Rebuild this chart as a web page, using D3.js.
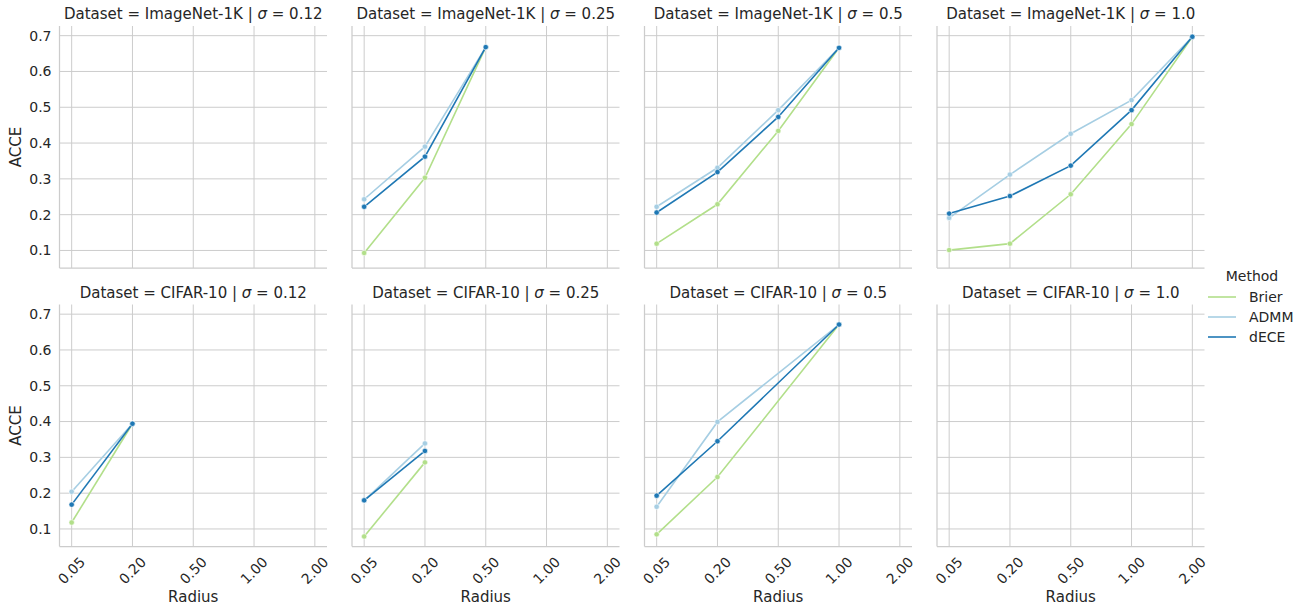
<!DOCTYPE html>
<html>
<head>
<meta charset="utf-8">
<script src="https://cdn.jsdelivr.net/npm/d3@7"></script>
<style>
  body { margin: 0; background: #fff; }
  text { font-family: "DejaVu Sans", sans-serif; fill: #262626; }
</style>
</head>
<body>
<div id="chart"></div>
<script>
// facet values
const datasets = ["ImageNet-1K", "CIFAR-10"];
const sigmas = ["0.12", "0.25", "0.5", "1.0"];
const radii = ["0.05", "0.20", "0.50", "1.00", "2.00"];
const methods = ["Brier", "ADMM", "dECE"];
const yTicks = [0.1, 0.2, 0.3, 0.4, 0.5, 0.6, 0.7];

// ACCE per radius (null = no run), one array per method and panel
const imagenet012Brier = [];
const imagenet012ADMM = [];
const imagenet012dECE = [];
const imagenet025Brier = [0.093, 0.303, 0.668];
const imagenet025ADMM = [0.243, 0.390, 0.668];
const imagenet025dECE = [0.222, 0.362, 0.668];
const imagenet05Brier = [0.119, 0.229, 0.434, 0.666];
const imagenet05ADMM = [0.222, 0.331, 0.492, 0.666];
const imagenet05dECE = [0.206, 0.319, 0.473, 0.666];
const imagenet10Brier = [0.101, 0.119, 0.257, 0.453, 0.697];
const imagenet10ADMM = [0.191, 0.312, 0.426, 0.520, 0.697];
const imagenet10dECE = [0.203, 0.252, 0.337, 0.492, 0.697];
const cifar012Brier = [0.118, 0.394];
const cifar012ADMM = [0.204, 0.394];
const cifar012dECE = [0.168, 0.394];
const cifar025Brier = [0.079, 0.286];
const cifar025ADMM = [0.179, 0.339];
const cifar025dECE = [0.180, 0.318];
const cifar05Brier = [0.085, 0.245, null, 0.671];
const cifar05ADMM = [0.162, 0.399, null, 0.671];
const cifar05dECE = [0.193, 0.345, null, 0.671];
const cifar10Brier = [];
const cifar10ADMM = [];
const cifar10dECE = [];

const panels = [
  [imagenet012Brier, imagenet012ADMM, imagenet012dECE],
  [imagenet025Brier, imagenet025ADMM, imagenet025dECE],
  [imagenet05Brier, imagenet05ADMM, imagenet05dECE],
  [imagenet10Brier, imagenet10ADMM, imagenet10dECE],
  [cifar012Brier, cifar012ADMM, cifar012dECE],
  [cifar025Brier, cifar025ADMM, cifar025dECE],
  [cifar05Brier, cifar05ADMM, cifar05dECE],
  [cifar10Brier, cifar10ADMM, cifar10dECE]
];

const color = d3.scaleOrdinal().domain(methods).range(["#b2df8a", "#a6cee3", "#1f78b4"]);

const W = 1297, H = 605;
const left = 59.5, colStep = 292.5, pw = 267.5;
const rowTop = [26, 304.5], ph = 242;

const svg = d3.select("#chart").append("svg")
  .attr("width", W).attr("height", H);

datasets.forEach((ds, r) => {
  sigmas.forEach((sg, c) => {
    const series = panels[r * 4 + c];
    const x0 = left + c * colStep, y0 = rowTop[r];

    const x = d3.scalePoint().domain(radii).range([x0, x0 + pw]).padding(0.2);
    const y = d3.scaleLinear().domain([0.051, 0.727]).range([y0 + ph, y0]);

    const g = svg.append("g");

    // grid
    g.selectAll(".gy").data(yTicks).enter().append("line")
      .attr("x1", x0).attr("x2", x0 + pw)
      .attr("y1", d => y(d)).attr("y2", d => y(d))
      .attr("stroke", "#cccccc").attr("stroke-width", 1);
    g.selectAll(".gx").data(radii).enter().append("line")
      .attr("x1", d => x(d)).attr("x2", d => x(d))
      .attr("y1", y0).attr("y2", y0 + ph)
      .attr("stroke", "#cccccc").attr("stroke-width", 1);

    // spines (left and bottom)
    g.append("line").attr("x1", x0).attr("x2", x0).attr("y1", y0).attr("y2", y0 + ph)
      .attr("stroke", "#cccccc").attr("stroke-width", 1.25);
    g.append("line").attr("x1", x0).attr("x2", x0 + pw).attr("y1", y0 + ph).attr("y2", y0 + ph)
      .attr("stroke", "#cccccc").attr("stroke-width", 1.25);

    // title
    const t = g.append("text")
      .attr("x", x0 + pw / 2).attr("y", y0 - 7)
      .attr("text-anchor", "middle")
      .style("font-size", "15px");
    t.append("tspan").text("Dataset = " + ds + " | ");
    t.append("tspan").style("font-style", "italic").text("σ");
    t.append("tspan").text(" = " + sg);

    if (c === 0) {
      g.selectAll(".yl").data(yTicks).enter().append("text")
        .attr("x", x0 - 8).attr("y", d => y(d))
        .attr("dy", "0.35em")
        .attr("text-anchor", "end")
        .style("font-size", "14px")
        .text(d => d.toFixed(1));
      g.append("text")
        .attr("transform", `translate(21,${y0 + ph / 2}) rotate(-90)`)
        .attr("text-anchor", "middle")
        .style("font-size", "15px")
        .text("ACCE");
    }

    if (r === 1) {
      g.selectAll(".xl").data(radii).enter().append("text")
        .attr("transform", d => `translate(${x(d)},${y0 + ph + 24}) rotate(-45)`)
        .attr("text-anchor", "middle")
        .attr("dy", "0.35em")
        .style("font-size", "14px")
        .text(d => d);
      g.append("text")
        .attr("x", x0 + pw / 2).attr("y", 602)
        .attr("text-anchor", "middle")
        .style("font-size", "15px")
        .text("Radius");
    }

    const line = d3.line()
      .x(d => x(d.r))
      .y(d => y(d.v));

    series.forEach((vals, i) => {
      const pts = vals.map((v, j) => ({ r: radii[j], v: v })).filter(d => d.v != null);
      g.append("path")
        .datum(pts)
        .attr("fill", "none")
        .attr("stroke", color(methods[i]))
        .attr("stroke-width", 1.6)
        .attr("d", line);
      g.selectAll(".pt" + i).data(pts).enter().append("circle")
        .attr("cx", d => x(d.r))
        .attr("cy", d => y(d.v))
        .attr("r", 2.7)
        .attr("fill", color(methods[i]))
        .attr("stroke", "#fff")
        .attr("stroke-width", 0.6);
    });
  });
});

// legend
const lg = svg.append("g");
lg.append("text")
  .attr("x", 1252).attr("y", 276).attr("dy", "0.35em")
  .attr("text-anchor", "middle")
  .style("font-size", "14px")
  .text("Method");
methods.forEach((m, i) => {
  const ly = 297 + i * 20;
  lg.append("line")
    .attr("x1", 1208).attr("x2", 1236)
    .attr("y1", ly).attr("y2", ly)
    .attr("stroke", color(m)).attr("stroke-width", 1.6);
  lg.append("text")
    .attr("x", 1249).attr("y", ly).attr("dy", "0.35em")
    .style("font-size", "14px")
    .text(m);
});
</script>
</body>
</html>
